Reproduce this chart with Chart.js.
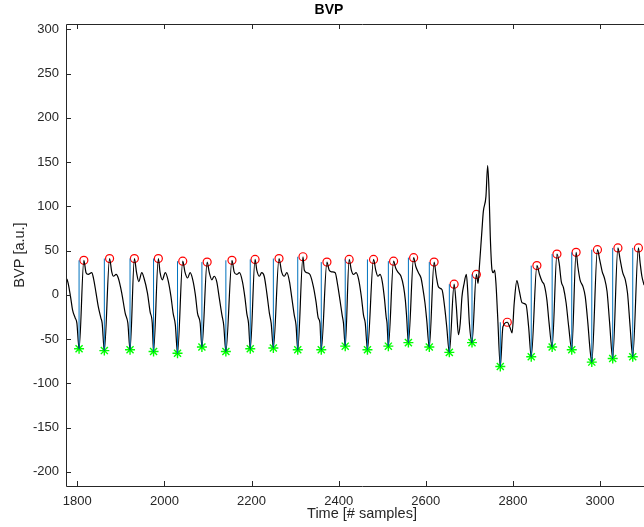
<!DOCTYPE html>
<html>
<head>
<meta charset="utf-8">
<title>BVP</title>
<script src="https://cdn.jsdelivr.net/npm/chart.js@4.4.0/dist/chart.umd.min.js"></script>
<style>
  html, body { margin: 0; padding: 0; background: #fff; overflow: hidden; }
  #wrap { width: 644px; height: 527px; overflow: hidden; }
  canvas { display: block; }
</style>
</head>
<body>
<div id="wrap"><canvas id="bvpChart" width="724" height="527"></canvas></div>
<script>
// BVP signal (sample index, value)
const sampleIdx = [
    1776, 1779, 1785, 1789, 1795, 1799,
    1804, 1815, 1820, 1825, 1833, 1837, 1843, 1848, 1854, 1857,
    1862, 1874, 1879, 1883, 1889, 1894, 1902, 1910, 1916,
    1921, 1931, 1936, 1941, 1948, 1953, 1961, 1967, 1972,
    1975, 1986, 1990, 1995, 2002, 2009, 2015, 2020, 2025,
    2030, 2042, 2047, 2053, 2059, 2065, 2071, 2076, 2082,
    2086, 2098, 2103, 2109, 2114, 2120, 2126, 2132, 2136,
    2141, 2155, 2160, 2166, 2172, 2179, 2185, 2189, 2193,
    2197, 2208, 2212, 2218, 2223, 2229, 2235, 2241, 2245,
    2250, 2263, 2269, 2275, 2281, 2287, 2292, 2298, 2302,
    2306, 2318, 2321, 2327, 2334, 2342, 2348, 2353, 2357,
    2360, 2373, 2378, 2384, 2392, 2397, 2403, 2408, 2411,
    2415, 2424, 2429, 2434, 2440, 2446, 2452, 2457, 2461,
    2466, 2480, 2485, 2490, 2495, 2500, 2505, 2509, 2511,
    2514, 2526, 2531, 2537, 2543, 2549, 2553, 2556,
    2560, 2572, 2577, 2583, 2589, 2593, 2598, 2602,
    2608, 2619, 2624, 2629, 2637, 2639, 2644, 2648,
    2654, 2665, 2670, 2675, 2679, 2683, 2688, 2693, 2696, 2700,
    2706, 2716, 2720, 2723, 2729, 2732, 2738, 2742, 2745, 2748, 2752, 2755, 2758, 2761, 2765,
    2771, 2777, 2787, 2794, 2798, 2803, 2809, 2814, 2821, 2830, 2836,
    2842, 2855, 2861, 2867, 2872, 2878, 2883,
    2890, 2901, 2906, 2911, 2916, 2922, 2928,
    2935, 2945, 2949, 2954, 2961, 2966, 2972, 2977,
    2981, 2994, 2999, 3005, 3010, 3016, 3022,
    3029, 3041, 3046, 3052, 3058, 3063, 3069,
    3075, 3088, 3092, 3096, 3101
];
const bvp = [
    18, 13, -4, -17, -26, -32,
    -61, 39, 25, 23, 25, 19, 2, -13, -26, -32,
    -63, 41, 26, 21, 23, 19, 2, -21, -32,
    -62, 41, 25, 15, 25, 19, 2, -19, -32,
    -64, 41, 25, 17, 25, 15, -2, -21, -34,
    -66, 38, 26, 19, 25, 17, 0, -21, -32,
    -59, 37, 25, 17, 21, 15, -4, -23, -34,
    -64, 39, 26, 23, 25, 15, -4, -21, -32,
    -61, 40, 28, 21, 25, 21, 2, -21, -32,
    -60, 41, 26, 21, 25, 15, -2, -23, -34,
    -62, 43, 28, 25, 23, 9, -8, -26, -32,
    -62, 37, 28, 26, 25, 13, -6, -23, -32,
    -58, 40, 28, 23, 25, 17, -2, -23, -32,
    -62, 40, 28, 21, 23, 15, -4, -25, -32,
    -58, 38, 30, 25, 21, 9, -6, -25,
    -54, 42, 32, 25, 19, 8, -9, -28,
    -59, 37, 21, 9, 6, 2, -17, -36,
    -65, 12, -13, -45, -32, -2, 13, 23, 6, -32,
    -54, 23, 13, 32, 74, 94, 111, 146, 119, 66, 28, 25, 28, 13, -25,
    -81, -36, -31, -38, -43, -9, 16, 6, -9, -11, -36,
    -70, 33, 23, 15, 11, -6, -32,
    -59, 46, 36, 15, 8, -9, -36,
    -62, 48, 32, 17, 9, -2, -32, -62,
    -76, 51, 40, 26, 19, 4, -32,
    -72, 53, 40, 25, 17, 2, -36,
    -70, 53, 36, 21, 11
];

// detected systolic peaks (red circles) and feet (green stars)
const peakIdx = [1815, 1874, 1931, 1986, 2042, 2098, 2155, 2208, 2263, 2318, 2373, 2424, 2480,
                 2526, 2572, 2619, 2665, 2716, 2787, 2855, 2901, 2945, 2994, 3041, 3088];
const peakVal = [39, 41, 41, 41, 38, 37, 39, 40, 41, 43, 37, 40, 40,
                 38, 42, 37, 12, 23, -31, 33, 46, 48, 51, 53, 53];
const footIdx = [1804, 1862, 1921, 1975, 2030, 2086, 2141, 2197, 2250, 2306, 2360, 2415, 2466,
                 2514, 2560, 2608, 2654, 2706, 2771, 2842, 2890, 2935, 2981, 3029, 3075];
const footVal = [-61, -63, -62, -64, -66, -59, -64, -61, -60, -62, -62, -58, -62,
                 -58, -54, -59, -65, -54, -81, -70, -59, -62, -76, -72, -70];

const xTicks = [1800, 2000, 2200, 2400, 2600, 2800, 3000];
const yTicks = [-200, -150, -100, -50, 0, 50, 100, 150, 200, 250, 300];

const FONT = '"Liberation Sans", Arial, Helvetica, sans-serif';

// vertical foot -> peak-height segments, broken with nulls
const stems = [];
footIdx.forEach((fx, i) => {
    stems.push({ x: fx, y: footVal[i] });
    stems.push({ x: fx, y: peakVal[i] });
    stems.push({ x: fx, y: null });
});

// MATLAB-like box with inward ticks
const matlabAxes = {
    id: 'matlabAxes',
    afterDatasetsDraw(chart) {
        const { ctx, chartArea: a, scales: { x, y } } = chart;
        ctx.save();
        ctx.strokeStyle = '#262626';
        ctx.lineWidth = 1;
        ctx.beginPath();
        ctx.rect(a.left + 0.5, a.top + 0.5, a.right - a.left, a.bottom - a.top);
        xTicks.forEach(v => {
            const px = Math.round(x.getPixelForValue(v)) + 0.5;
            ctx.moveTo(px, a.bottom); ctx.lineTo(px, a.bottom - 5);
            ctx.moveTo(px, a.top); ctx.lineTo(px, a.top + 5);
        });
        yTicks.forEach(v => {
            const py = Math.round(y.getPixelForValue(v)) + 0.5;
            ctx.moveTo(a.left, py); ctx.lineTo(a.left + 5, py);
            ctx.moveTo(a.right, py); ctx.lineTo(a.right - 5, py);
        });
        ctx.stroke();
        ctx.restore();
    }
};

new Chart(document.getElementById('bvpChart'), {
    type: 'line',
    data: {
        datasets: [
            {
                data: stems,
                borderColor: '#0072BD',
                borderWidth: 1,
                pointRadius: 0,
                spanGaps: false
            },
            {
                data: sampleIdx.map((s, i) => ({ x: s, y: bvp[i] })),
                borderColor: '#000000',
                borderWidth: 1.2,
                pointRadius: 0,
                cubicInterpolationMode: 'monotone'
            },
            {
                data: peakIdx.map((s, i) => ({ x: s, y: peakVal[i] })),
                showLine: false,
                pointStyle: 'circle',
                pointRadius: 4,
                borderColor: '#ff0000',
                backgroundColor: 'rgba(0,0,0,0)',
                borderWidth: 1.2
            },
            {
                data: footIdx.map((s, i) => ({ x: s, y: footVal[i] })),
                showLine: false,
                pointStyle: 'star',
                pointRadius: 5,
                borderColor: '#00ff00',
                backgroundColor: '#00ff00',
                borderWidth: 1.4
            }
        ]
    },
    options: {
        responsive: false,
        animation: false,
        layout: { padding: { left: 0, right: 66, top: 0, bottom: 0 } },
        plugins: {
            legend: { display: false },
            tooltip: { enabled: false },
            title: {
                display: true,
                text: 'BVP',
                color: '#000',
                font: { family: FONT, size: 14, weight: 'bold' },
                padding: { top: 2, bottom: 5.2 }
            }
        },
        scales: {
            x: {
                type: 'linear',
                min: 1774,
                max: 3133,
                grid: { display: false, drawTicks: false },
                border: { display: false },
                afterFit: scale => { scale.height = 41; },
                afterBuildTicks: scale => { scale.ticks = xTicks.map(v => ({ value: v })); },
                ticks: {
                    color: '#262626',
                    font: { family: FONT, size: 13 },
                    padding: 8,
                    maxRotation: 0,
                    autoSkip: false,
                    callback: v => String(v)
                },
                title: {
                    display: true,
                    text: 'Time [# samples]',
                    color: '#262626',
                    font: { family: FONT, size: 14.5 },
                    padding: { top: 0, bottom: 4 }
                }
            },
            y: {
                type: 'linear',
                min: -216,
                max: 306,
                grid: { display: false, drawTicks: false },
                border: { display: false },
                afterFit: scale => { scale.width = 66; },
                afterBuildTicks: scale => { scale.ticks = yTicks.map(v => ({ value: v })); },
                ticks: {
                    color: '#262626',
                    font: { family: FONT, size: 13 },
                    padding: 7,
                    autoSkip: false,
                    callback: v => String(v)
                },
                title: {
                    display: true,
                    text: 'BVP [a.u.]',
                    color: '#262626',
                    font: { family: FONT, size: 14.5 },
                    padding: { top: 11, bottom: 0 }
                }
            }
        }
    },
    plugins: [matlabAxes]
});
</script>
</body>
</html>
